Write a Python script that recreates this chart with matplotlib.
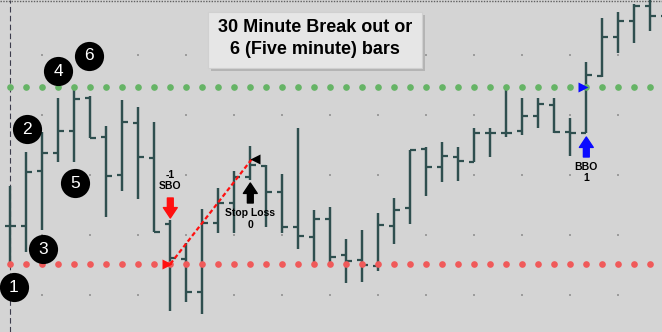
import numpy as np
import matplotlib
matplotlib.use("Agg")
import matplotlib.pyplot as plt
import matplotlib.patches as patches

plt.rcParams['font.family'] = ['Liberation Sans', 'DejaVu Sans']

# five minute bars (bar 0 = first bar of the session)
opens = [1226.5, 1226.5, 1240.25, 1244.75, 1250.25, 1258.5, 1248.75, 1239.25, 1252.25, 1243.5,
         1227.0, 1218.25, 1210.0, 1227.25, 1232.25, 1238.75, 1241.5, 1235.0, 1226.25, 1223.75,
         1228.25, 1219.25, 1218.0, 1216.5, 1226.5, 1231.0, 1245.75, 1241.25, 1243.75, 1242.5,
         1249.75, 1249.75, 1250.25, 1254.0, 1256.75, 1250.0, 1249.75, 1264.0, 1273.75, 1277.75,
         1281.5, 1279.0]
highs = [1236.5, 1245.0, 1250.0, 1258.5, 1261.25, 1259.0, 1251.5, 1258.0, 1256.25, 1252.5,
         1228.0, 1222.25, 1230.75, 1236.0, 1240.25, 1246.5, 1241.75, 1239.5, 1251.0, 1230.5,
         1231.25, 1223.25, 1225.5, 1229.75, 1233.5, 1245.5, 1246.25, 1247.5, 1246.25, 1251.0,
         1251.0, 1260.5, 1258.5, 1258.5, 1258.5, 1253.5, 1267.5, 1278.5, 1280.0, 1282.0,
         1284.0, 1285.0]
lows = [1217.0, 1220.0, 1225.5, 1242.5, 1242.5, 1248.5, 1228.75, 1235.25, 1233.25, 1225.0,
        1205.25, 1207.5, 1204.5, 1224.75, 1224.75, 1238.0, 1226.25, 1224.75, 1220.75, 1216.5,
        1217.25, 1212.25, 1212.5, 1215.25, 1222.0, 1227.0, 1234.0, 1237.5, 1237.75, 1242.5,
        1243.75, 1248.75, 1249.25, 1251.0, 1249.75, 1244.0, 1249.75, 1263.75, 1269.75, 1272.25,
        1275.25, 1276.0]
closes = [1226.5, 1240.0, 1244.75, 1250.25, 1258.25, 1248.5, 1239.0, 1252.5, 1243.75, 1225.0,
          1218.5, 1210.0, 1227.25, 1232.25, 1238.75, 1241.75, 1235.0, 1226.25, 1224.0, 1228.25,
          1218.75, 1217.75, 1216.75, 1226.75, 1230.5, 1245.5, 1241.25, 1244.0, 1242.75, 1249.75,
          1249.75, 1249.75, 1254.0, 1257.0, 1250.0, 1249.75, 1264.25, 1273.75, 1277.75, 1281.5,
          1279.0, 1283.0]

# 30 minute range = first 6 bars
n_range = 6
range_high = max(highs[:n_range])
range_low = min(lows[:n_range])

# numbered swing labels
swing_labels = ['1', '2', '3', '4', '5', '6']
swing_x = [0.23, 1.04, 2.04, 2.98, 4.04, 4.92]
swing_y = [1211.25, 1250.75, 1220.75, 1265.25, 1237.25, 1269.0]

# trade signals
sbo_bar = 10
stop_bar = 15
stop_price = 1243.25
bbo_bar = 36

bg = '#d4d4d4'
bar_col = '#2f4f4f'

fig = plt.figure(figsize=(6.62, 3.32), dpi=100)
fig.patch.set_facecolor(bg)
ax = fig.add_axes([0, 0, 1, 1])
ax.set_facecolor(bg)
ax.set_xlim(-0.644, 40.73)
ax.set_ylim(1200, 1283)
ax.set_axis_off()

# sparse dotted grid
gx = np.arange(2, 41, 3)
gy = np.arange(1209.25, 1283, 15)
GX, GY = np.meshgrid(gx, gy)
ax.scatter(GX.ravel(), GY.ravel(), s=0.8, c='#9c9c9c', marker='s', lw=0, zorder=0)

# session start and top border
ax.axvline(0, color='#3c3c4c', lw=0.8, ls=(0, (5, 3)), zorder=1)
ax.axhline(1282.85, color='#606060', lw=1.0, ls=(0, (1, 1)), zorder=1)

# OHLC bars
x = np.arange(len(opens))
ax.vlines(x, lows, highs, colors=bar_col, lw=1.75, capstyle='butt', zorder=2)
ax.hlines(opens, x - 0.36, x, colors=bar_col, lw=1.6, capstyle='butt', zorder=2)
ax.hlines(closes, x, x + 0.36, colors=bar_col, lw=1.6, capstyle='butt', zorder=2)

# range lines
ax.plot(x, np.full(len(x), range_high), 'o', ms=4.8, color='#66b466', mec='none', zorder=3)
ax.plot(x, np.full(len(x), range_low), 'o', ms=4.8, color='#f05a5a', mec='none', zorder=3)

# swing circles
ax.plot(swing_x, swing_y, 'o', ms=21, color='black', mec='none', zorder=5)
for lab, sx, sy in zip(swing_labels, swing_x, swing_y):
    ax.text(sx, sy, lab, color='white', fontsize=12.5, ha='center', va='center', zorder=6)

def arrow(xb, y0, y1, col):
    ax.annotate('', xy=(xb, y1), xytext=(xb, y0),
                arrowprops=dict(arrowstyle='simple,head_length=7.5,head_width=10,tail_width=4.2',
                                mutation_scale=1, color=col, shrinkA=0, shrinkB=0), zorder=6)

# short break out
ax.text(sbo_bar, 1237.9, '-1\nSBO', fontsize=7.5, fontweight='bold', ha='center', va='center', zorder=6)
arrow(sbo_bar, 1233.5, 1228.5, '#ff1010')
ax.plot(sbo_bar - 0.18, range_low, '>', ms=7.5, color='#ff1010', mec='none', zorder=6)
ax.plot([sbo_bar, stop_bar + 0.1], [range_low, stop_price], color='#ff1010', lw=1.6,
        ls=(0, (2, 1.2)), zorder=4)
ax.plot(stop_bar + 0.3, stop_price, '<', ms=7.5, color='black', mec='none', zorder=6)

# stop
arrow(stop_bar, 1232.25, 1237.25, 'black')
ax.text(stop_bar, 1228.3, 'Stop Loss\n0', fontsize=7.5, fontweight='bold', ha='center', va='center', zorder=6)

# long break out
ax.plot(bbo_bar - 0.2, range_high, '>', ms=7.5, color='#0a0aff', mec='none', zorder=6)
arrow(bbo_bar, 1243.75, 1248.75, '#0a0aff')
ax.text(bbo_bar, 1239.9, 'BBO\n1', fontsize=7.5, fontweight='bold', ha='center', va='center', zorder=6)

# title box
ax.add_patch(patches.Rectangle((0.319, 0.955), 0.323, -0.169, transform=ax.transAxes,
                               facecolor='#b4b4b4', edgecolor='none', zorder=7))
ax.add_patch(patches.Rectangle((0.314, 0.964), 0.323, -0.169, transform=ax.transAxes,
                               facecolor='#e6e6e6', edgecolor='#d0d0d0', lw=0.8, zorder=8))
ax.text(0.476, 0.916, '30 Minute Break out or', transform=ax.transAxes, fontsize=13,
        fontweight='bold', ha='center', va='center', zorder=9)
ax.text(0.476, 0.852, '6 (Five minute) bars', transform=ax.transAxes, fontsize=13,
        fontweight='bold', ha='center', va='center', zorder=9)

fig.savefig('out.png', dpi=100, facecolor=bg)
